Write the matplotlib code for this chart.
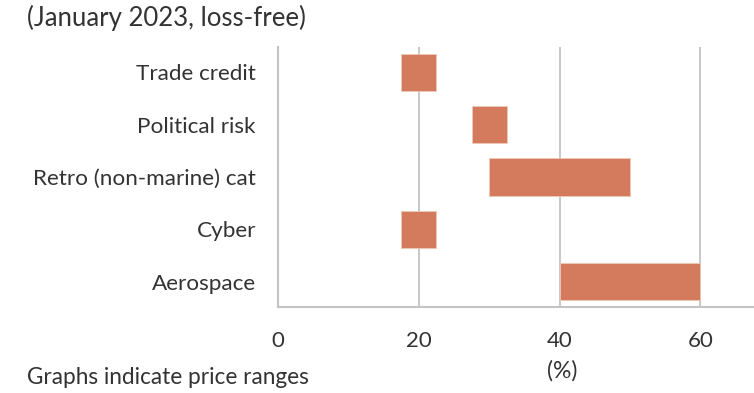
import matplotlib
matplotlib.use("Agg")
import matplotlib.pyplot as plt

# data (price change ranges, %)
categories = ["Aerospace", "Cyber", "Retro (non-marine) cat", "Political risk", "Trade credit"]
low = [40, 17.5, 30, 27.5, 17.5]
high = [60, 22.5, 50, 32.5, 22.5]
xticks = [0, 20, 40, 60]

plt.rcParams['font.family'] = ['Lato', 'DejaVu Sans']
text_col = "#333333"
bar_col = "#D47B5E"
grid_col = "#C4C4C4"

fig = plt.figure(figsize=(7.54, 3.93), dpi=100)
ax = fig.add_axes([278 / 754, 1 - 307 / 393, 1 - 278 / 754, 260 / 393])

ypos = list(range(len(categories)))
widths = [h - l for l, h in zip(low, high)]
ax.barh(ypos, widths, left=low, height=0.71, color=bar_col,
        edgecolor="#F0C8B8", linewidth=0.6, zorder=3)

ax.set_xlim(0, 67.6)
ax.set_ylim(-0.48, 4.48)
ax.set_xticks(xticks)
ax.set_xticklabels([str(t) for t in xticks], fontsize=16, color=text_col)
ax.set_yticks(ypos)
ax.set_yticklabels(categories, fontsize=16.2, color=text_col)
ax.tick_params(axis="both", length=0)
ax.tick_params(axis="x", pad=17)
ax.tick_params(axis="y", pad=16)

ax.xaxis.grid(True, color=grid_col, linewidth=1.3, zorder=0)
for s in ["top", "right"]:
    ax.spines[s].set_visible(False)
for s in ["left", "bottom"]:
    ax.spines[s].set_color(grid_col)
    ax.spines[s].set_linewidth(1.5)

fig.text(27 / 754, 1 - 18 / 393, "(January 2023, loss-free)", fontsize=18.5,
         color=text_col, va="center", ha="left")
fig.text(27 / 754, 1 - 378 / 393, "Graphs indicate price ranges", fontsize=16.3,
         color=text_col, va="center", ha="left")
fig.text(562 / 754, 1 - 371 / 393, "(%)", fontsize=16.5,
         color=text_col, va="center", ha="center")

fig.savefig("out.png", dpi=100)
